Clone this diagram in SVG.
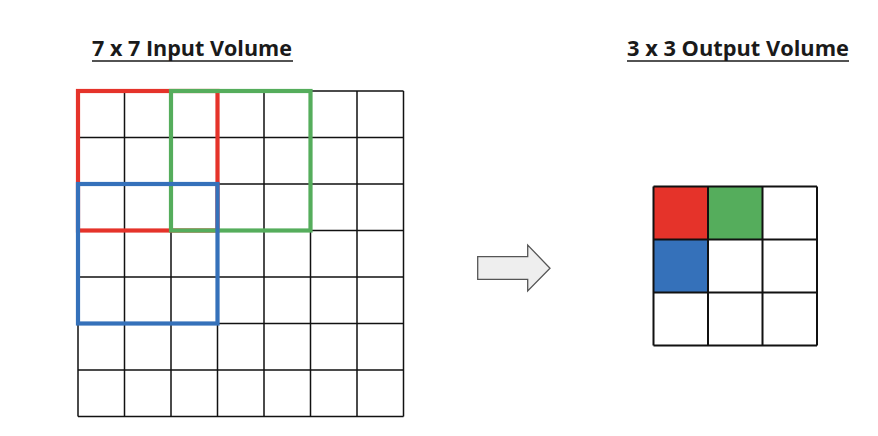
<svg xmlns="http://www.w3.org/2000/svg" width="878" height="436" viewBox="0 0 878 436">
<style>
.title{font-family:"Open Sans","Liberation Sans",sans-serif;font-weight:bold;font-size:22px;fill:#1a1a1a}
.ul{stroke:#1a1a1a;stroke-width:1.6}
.grid{stroke:#111;stroke-width:1.5;fill:none}
.grid2{stroke:#111;stroke-width:2;fill:none}
.win{fill:none;stroke-width:4.2}
</style>
<rect width="878" height="436" fill="#fff"/>
<g id="input-title">
<text class="title" x="92" y="56" textLength="200" lengthAdjust="spacingAndGlyphs">7 x 7 Input Volume</text>
<line class="ul" x1="92" y1="61" x2="293" y2="61"/>
</g>
<g id="output-title">
<text class="title" x="627" y="56" textLength="222" lengthAdjust="spacingAndGlyphs">3 x 3 Output Volume</text>
<line class="ul" x1="627" y1="61" x2="849" y2="61"/>
</g>
<g id="input-grid">
<path class="grid" d="M78,91H403.5M78,137.5H403.5M78,184H403.5M78,230.5H403.5M78,277H403.5M78,323.5H403.5M78,370H403.5M78,416.5H403.5M78,91V416.5M124.5,91V416.5M171,91V416.5M217.5,91V416.5M264,91V416.5M310.5,91V416.5M357,91V416.5M403.5,91V416.5"/>
</g>
<g id="windows">
<rect id="red-window" class="win" x="78" y="91" width="139.5" height="139.5" stroke="#E5332A"/>
<rect id="green-window" class="win" x="171" y="91" width="139.5" height="139.5" stroke="#55AD5C"/>
<rect id="blue-window" class="win" x="78" y="184" width="139.5" height="139.5" stroke="#3571BA"/>
</g>
<g id="arrow">
<path d="M477.7,256.7H527.7V245L550,268.3L527.7,291V279.3H477.7Z" fill="#EEEEEE" stroke="#555" stroke-width="1.3" stroke-linejoin="miter"/>
</g>
<g id="output-grid">
<rect x="653.5" y="186.5" width="54.5" height="53" fill="#E5332A"/>
<rect x="708" y="186.5" width="54.5" height="53" fill="#55AD5C"/>
<rect x="653.5" y="239.5" width="54.5" height="53" fill="#3571BA"/>
<path class="grid2" d="M653.5,186.5H817M653.5,239.5H817M653.5,292.5H817M653.5,345.5H817M653.5,186.5V345.5M708,186.5V345.5M762.5,186.5V345.5M817,186.5V345.5"/>
</g>
</svg>
